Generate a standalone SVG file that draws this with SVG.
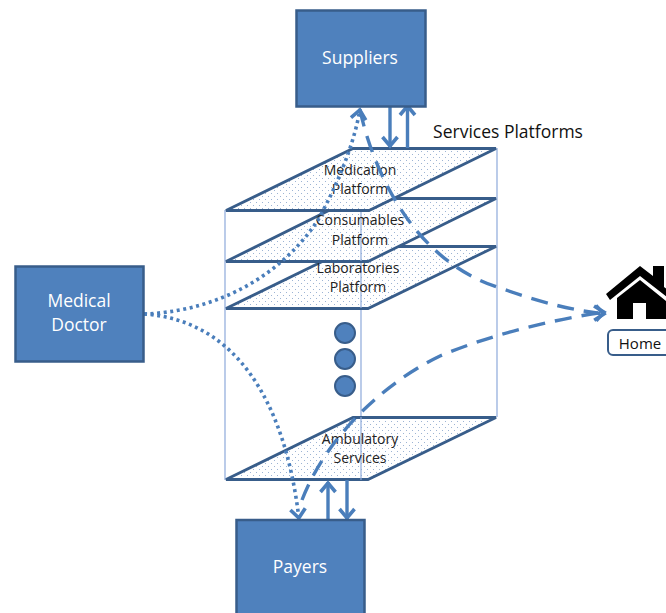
<svg xmlns="http://www.w3.org/2000/svg" width="666" height="613" viewBox="0 0 666 613">
<style>
.box{fill:#4f81bd;stroke:#385d8a;stroke-width:2.5}
.t{font-family:"Open Sans","Liberation Sans",sans-serif;text-anchor:middle}
.w{fill:#fff;font-size:17.5px}
.k{fill:#222;font-size:14px}
.plat{fill:url(#dots);stroke:#385d8a;stroke-width:2.8;stroke-linejoin:miter}
.thin{stroke:#8eaadb;stroke-width:1.2;fill:none}
.c{fill:none;stroke:#4a7ebb;stroke-width:3.4}
.dot{stroke-dasharray:3 3.6;stroke-width:3.6}
.dash{stroke-dasharray:17 10}
.o{fill:#4f81bd;stroke:#385d8a;stroke-width:2}
</style>
<defs>
<pattern id="dots" width="6" height="6" patternUnits="userSpaceOnUse">
<rect width="6" height="6" fill="#fff"/>
<rect x="1" y="1" width="1" height="1" fill="#9db4d4"/>
<rect x="4" y="4" width="1" height="1" fill="#9db4d4"/>
</pattern>
<marker id="a" markerUnits="userSpaceOnUse" markerWidth="20" markerHeight="20" refX="15" refY="10" orient="auto">
<path d="M5 2.500 L14 10 L5 17.500" fill="none" stroke="#4a7ebb" stroke-width="3.6"/>
</marker>
</defs>
<g id="frame">
<path class="thin" d="M225 210V480M361 210V480M497 148V417"/>
</g>
<g id="platform-ambulatory">
<path class="plat" d="M226 479.500L353 417.500H496L368 479.500Z"/>
<path class="thin" d="M361 417V480"/>
<text class="t k" x="360" y="444">Ambulatory</text>
<text class="t k" x="360" y="463">Services</text>
</g>
<g id="platform-laboratories">
<path class="plat" d="M226 308.500L353 246.500H496L368 308.500Z"/>
<path class="thin" d="M361 247V308"/>
<text class="t k" x="358" y="273">Laboratories</text>
<text class="t k" x="358" y="292">Platform</text>
</g>
<g id="platform-consumables">
<path class="plat" d="M226 261.500L353 198.500H496L368 261.500Z"/>
<path class="thin" d="M361 199V261"/>
<text class="t k" x="360" y="225">Consumables</text>
<text class="t k" x="360" y="245">Platform</text>
</g>
<g id="platform-medication">
<path class="plat" d="M226 210.500L353 148.500H496L369 210.500Z"/>
<text class="t k" x="360" y="175">Medication</text>
<text class="t k" x="360" y="194">Platform</text>
</g>
<g id="ellipsis">
<circle class="o" cx="345" cy="333" r="10"/>
<circle class="o" cx="345" cy="359" r="10"/>
<circle class="o" cx="345" cy="386" r="10"/>
</g>
<g id="connectors">
<path class="c" d="M390 107V147" marker-end="url(#a)"/>
<path class="c" d="M407.500 148V105" marker-end="url(#a)"/>
<path class="c" d="M328 519V482" marker-end="url(#a)"/>
<path class="c" d="M347 480V519" marker-end="url(#a)"/>
<path class="c dot" d="M144 314C205 312 275 285 318 220C340 180 355 140 360 109" marker-end="url(#a)"/>
<path class="c dot" d="M144 314C235 320 285 400 299 519" marker-end="url(#a)"/>
<path class="c dash" d="M360 110C372 165 410 260 500 288C540 302 570 310 605 314" marker-end="url(#a)"/>
<path class="c dash" d="M302 500C325 440 380 385 440 356C490 335 550 320 605 312" marker-end="url(#a)"/>
</g>
<g id="suppliers">
<rect class="box" x="296.500" y="10.500" width="129" height="96"/>
<text class="t w" x="360" y="64">Suppliers</text>
</g>
<g id="medical-doctor">
<rect class="box" x="15.500" y="266.500" width="128" height="95"/>
<text class="t w" x="79" y="307">Medical</text>
<text class="t w" x="79" y="331">Doctor</text>
</g>
<g id="payers">
<rect class="box" x="236.500" y="520" width="128" height="96"/>
<text class="t w" x="300" y="573">Payers</text>
</g>
<g id="home">
<path d="M606 294L640 266L653 276V266H664V287L672 293V301L640 276L610 300Z" fill="#000"/>
<path d="M617 298L640 280L666 301V319H646V303H633V319H617Z" fill="#000"/>
<rect x="608" y="330" width="64" height="25" rx="5" fill="#fff" stroke="#385d8a" stroke-width="2"/>
<text class="t" x="640" y="349" font-size="15" fill="#111">Home</text>
</g>
<text id="title" class="t" x="508" y="138" font-size="17.500" fill="#111">Services Platforms</text>
</svg>
